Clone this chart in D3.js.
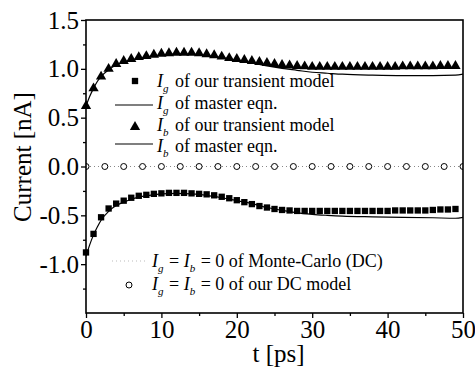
<!DOCTYPE html>
<html>
<head>
<meta charset="utf-8">
<script src="https://cdn.jsdelivr.net/npm/d3@7"></script>
<style>
  html, body { margin: 0; padding: 0; background: #fff; }
  svg { display: block; }
  text { font-family: "Liberation Serif", "Times New Roman", serif; fill: #000; }
</style>
</head>
<body>
<svg id="chart" width="475" height="371"></svg>
<script>
// ---- data -------------------------------------------------------------
// sample times of the transient-model markers [ps]
const modelTimes = [0,1,2,3,4,5,6,7,8,9,10,11,12,13,14,15,16,17,18,19,20,21,22,23,24,
                    25,26,27,28,29,30,31,32,33,34,35,36,37,38,39,40,41,42,43,44,45,46,47,48,49];
// I_b of the transient model [nA]
const ibModel = [0.62,0.80,0.92,1.00,1.05,1.08,1.10,1.12,1.13,1.145,1.155,1.16,1.165,1.165,1.165,1.16,
                 1.15,1.14,1.125,1.11,1.10,1.09,1.08,1.07,1.06,1.05,1.04,1.035,1.03,1.025,1.02,1.02,
                 1.02,1.02,1.02,1.02,1.02,1.02,1.02,1.02,1.02,1.02,1.025,1.025,1.025,1.025,1.025,1.03,1.03,1.03];
// I_g of the transient model [nA]
const igModel = [-0.88,-0.69,-0.52,-0.43,-0.38,-0.35,-0.32,-0.30,-0.29,-0.28,-0.275,-0.27,-0.27,-0.27,-0.275,
                 -0.28,-0.285,-0.295,-0.31,-0.325,-0.345,-0.365,-0.385,-0.405,-0.42,-0.435,-0.445,-0.45,-0.455,
                 -0.455,-0.455,-0.455,-0.455,-0.455,-0.455,-0.455,-0.455,-0.455,-0.455,-0.455,-0.455,-0.45,
                 -0.45,-0.45,-0.45,-0.45,-0.445,-0.44,-0.44,-0.435];

// master-equation curves
const masterTimes = [0,0.5,1,1.5,2,3,4,5,6,8,10,12,14,16,18,20,22,24,26,28,30,32,34,38,42,46,49,50];
const ibMaster = [0.62,0.72,0.80,0.87,0.92,0.99,1.04,1.07,1.09,1.12,1.14,1.15,1.15,1.135,1.115,1.09,1.06,
                  1.03,1.005,0.985,0.965,0.955,0.945,0.935,0.93,0.93,0.935,0.945];
const igMaster = [-0.92,-0.80,-0.70,-0.62,-0.55,-0.46,-0.40,-0.365,-0.335,-0.30,-0.28,-0.275,-0.28,-0.295,
                  -0.32,-0.35,-0.38,-0.42,-0.45,-0.475,-0.49,-0.50,-0.508,-0.515,-0.52,-0.525,-0.53,-0.52];

// DC results: Monte-Carlo line and DC-model circles (both zero)
const mcTimes = [0, 50];
const mcValues = [0, 0];
const dcTimes = [0,2.5,5,7.5,10,12.5,15,17.5,20,22.5,25,27.5,30,32.5,35,37.5,40,42.5,45,47.5,50];
const dcValues = [0,0,0,0,0,0,0,0,0,0,0,0,0,0,0,0,0,0,0,0,0];

// axes
const xTicks = [0,10,20,30,40,50];
const xMinorTicks = [5,15,25,35,45];
const yTicks = [1.5,1.0,0.5,0.0,-0.5,-1.0];
const yMinorTicks = [1.25,0.75,0.25,-0.25,-0.75,-1.25];
const yTickLabels = ["1.5","1.0","0.5","0.0","-0.5","-1.0"];
const xTitle = "t [ps]";
const yTitle = "Current [nA]";

// ---- layout -----------------------------------------------------------
const svg = d3.select("#chart");
const L = 86, R = 463, T = 20, B = 313;

const x = d3.scaleLinear().domain([0, 50]).range([L, R]);
const y = d3.scaleLinear().domain([-1.5, 1.5]).range([B, T]);

const plot = svg.append("g");
plot.append("clipPath").attr("id", "clip")
  .append("rect").attr("x", L).attr("y", T).attr("width", R - L).attr("height", B - T);
const data = plot.append("g").attr("clip-path", "url(#clip)");

// Monte-Carlo DC line (dotted)
data.append("path")
  .datum(mcTimes.map((t, i) => [t, mcValues[i]]))
  .attr("d", d3.line().x(d => x(d[0])).y(d => y(d[1])))
  .attr("fill", "none").attr("stroke", "#888").attr("stroke-width", 1)
  .attr("stroke-dasharray", "1,3");

// master equation curves
const curve = d3.line().curve(d3.curveMonotoneX).x(d => x(d[0])).y(d => y(d[1]));
data.append("path")
  .datum(masterTimes.map((t, i) => [t, ibMaster[i]]))
  .attr("d", curve).attr("fill", "none").attr("stroke", "#000").attr("stroke-width", 1.2);
data.append("path")
  .datum(masterTimes.map((t, i) => [t, igMaster[i]]))
  .attr("d", curve).attr("fill", "none").attr("stroke", "#000").attr("stroke-width", 1.2);

// DC model circles
data.selectAll("circle.dc")
  .data(dcTimes.map((t, i) => [t, dcValues[i]]))
  .join("circle").attr("class", "dc")
  .attr("cx", d => x(d[0])).attr("cy", d => y(d[1])).attr("r", 3)
  .attr("fill", "#fff").attr("stroke", "#000").attr("stroke-width", 1);

// transient model markers
const triSym = d3.symbol().type(d3.symbolTriangle).size(46);
const sqSym = d3.symbol().type(d3.symbolSquare).size(40);
plot.selectAll("path.ib")
  .data(modelTimes.map((t, i) => [t, ibModel[i]]))
  .join("path").attr("class", "ib")
  .attr("d", triSym)
  .attr("transform", d => `translate(${x(d[0])},${y(d[1])})`)
  .attr("fill", "#000");
plot.selectAll("path.ig")
  .data(modelTimes.map((t, i) => [t, igModel[i]]))
  .join("path").attr("class", "ig")
  .attr("d", sqSym)
  .attr("transform", d => `translate(${x(d[0])},${y(d[1])})`)
  .attr("fill", "#000");

// ---- axes -------------------------------------------------------------
const fs = 25;
const xAxis = svg.append("g").attr("transform", `translate(0,${B})`)
  .call(d3.axisBottom(x).tickValues(xTicks).tickSize(5).tickPadding(2).tickFormat(d3.format("d")));
const xMinor = svg.append("g").attr("transform", `translate(0,${B})`)
  .call(d3.axisBottom(x).tickValues(xMinorTicks).tickSize(3).tickFormat(""));
const yAxis = svg.append("g").attr("transform", `translate(${L},0)`)
  .call(d3.axisLeft(y).tickValues(yTicks).tickSize(5).tickPadding(2)
    .tickFormat((d, i) => yTickLabels[i]));
const yMinor = svg.append("g").attr("transform", `translate(${L},0)`)
  .call(d3.axisLeft(y).tickValues(yMinorTicks).tickSize(3).tickFormat(""));

[xAxis, xMinor, yAxis, yMinor].forEach(g => {
  g.attr("font-family", null);
  g.select(".domain").remove();
  g.selectAll(".tick line").attr("stroke", "#000").attr("stroke-width", 1.3);
  g.selectAll("text").attr("font-size", fs).attr("fill", "#000");
});
xAxis.selectAll("text").attr("dy", "0.72em");

// frame
svg.append("rect").attr("x", L).attr("y", T).attr("width", R - L).attr("height", B - T)
  .attr("fill", "none").attr("stroke", "#000").attr("stroke-width", 1.6);

// axis titles
svg.append("text").attr("x", (L + R) / 2 + 4).attr("y", 362)
  .attr("text-anchor", "middle").attr("font-size", fs).text(xTitle);
svg.append("text").attr("transform", `translate(31,157) rotate(-90)`)
  .attr("text-anchor", "middle").attr("font-size", fs).text(yTitle);

// ---- legend -----------------------------------------------------------
const lfs = 18;
function legendLabel(g, xPos, yPos, parts) {
  const t = g.append("text").attr("x", xPos).attr("y", yPos).attr("font-size", lfs);
  let shift = 0;
  parts.forEach(p => {
    const sp = t.append("tspan").text(p.s);
    const target = p.sub ? 5 : 0;
    sp.attr("dy", target - shift);
    shift = target;
    if (p.it) sp.attr("font-style", "italic");
    if (p.sub) sp.attr("font-size", 11);
    if (p.dx) sp.attr("dx", p.dx);
  });
}
const leg = svg.append("g");

// row 1: I_g model (square)
leg.append("path").attr("d", sqSym).attr("transform", "translate(135,81)").attr("fill", "#000");
legendLabel(leg, 157, 87, [{s: "I", it: true}, {s: "g", it: true, sub: true}, {s: " of our transient model", dx: 2}]);
// row 2: I_g master
leg.append("line").attr("x1", 115).attr("x2", 153).attr("y1", 105).attr("y2", 105)
  .attr("stroke", "#000").attr("stroke-width", 1.2);
legendLabel(leg, 157, 109, [{s: "I", it: true}, {s: "g", it: true, sub: true}, {s: " of master eqn.", dx: 2}]);
// row 3: I_b model (triangle)
leg.append("path").attr("d", triSym).attr("transform", "translate(135,127)").attr("fill", "#000");
legendLabel(leg, 157, 131, [{s: "I", it: true}, {s: "b", it: true, sub: true}, {s: " of our transient model", dx: 2}]);
// row 4: I_b master
leg.append("line").attr("x1", 115).attr("x2", 153).attr("y1", 144).attr("y2", 144)
  .attr("stroke", "#000").attr("stroke-width", 1.2);
legendLabel(leg, 157, 152, [{s: "I", it: true}, {s: "b", it: true, sub: true}, {s: " of master eqn.", dx: 2}]);

// row 5: Monte-Carlo DC (dotted)
leg.append("line").attr("x1", 112).attr("x2", 148).attr("y1", 261).attr("y2", 261)
  .attr("stroke", "#bbb").attr("stroke-width", 1).attr("stroke-dasharray", "1,3");
legendLabel(leg, 152, 267, [{s: "I", it: true}, {s: "g", it: true, sub: true}, {s: " = ", dx: 1},
  {s: "I", it: true}, {s: "b", it: true, sub: true}, {s: " = 0 of Monte-Carlo (DC)", dx: 1}]);
// row 6: DC model (circle)
leg.append("circle").attr("cx", 129).attr("cy", 285).attr("r", 3)
  .attr("fill", "#fff").attr("stroke", "#000").attr("stroke-width", 1);
legendLabel(leg, 152, 290, [{s: "I", it: true}, {s: "g", it: true, sub: true}, {s: " = ", dx: 1},
  {s: "I", it: true}, {s: "b", it: true, sub: true}, {s: " = 0 of our DC model", dx: 1}]);
</script>
</body>
</html>
